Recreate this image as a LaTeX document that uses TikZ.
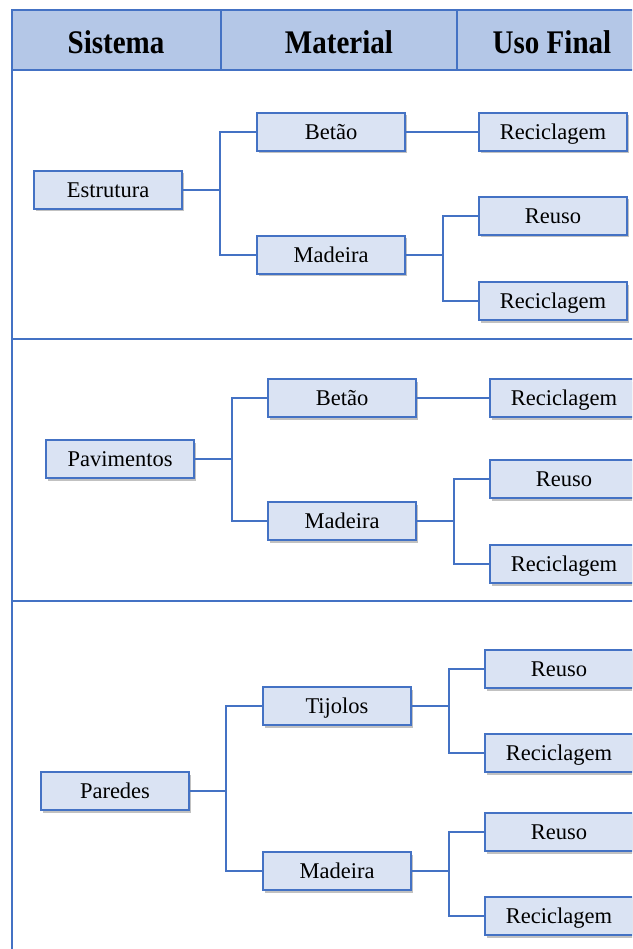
\documentclass[tikz,border=0pt]{standalone}
\usepackage{fontspec}
\setmainfont{Liberation Serif}
\newfontfamily\headfont[FakeStretch=0.88]{Liberation Serif}
\usetikzlibrary{shadows}
\definecolor{frame}{HTML}{4472C4}
\definecolor{headfill}{HTML}{B4C7E7}
\definecolor{boxfill}{HTML}{DAE3F3}
\tikzset{
  box/.style={draw=frame, fill=boxfill, line width=1.6pt, minimum width=148pt,
    minimum height=38pt, inner sep=0pt, text height=16pt, text depth=1pt,
    font=\fontsize{22.5}{26}\selectfont,
    drop shadow={shadow xshift=1.5pt, shadow yshift=-2.5pt, opacity=0.4, fill=black!60}},
  link/.style={draw=frame, line width=1.7pt},
  grid/.style={draw=frame, line width=2.2pt},
  head/.style={font=\headfont\fontsize{33}{36}\selectfont\bfseries}
}
\begin{document}
\begin{tikzpicture}[x=1pt, y=-1pt]
\useasboundingbox (0,0) rectangle (632,949);
\clip (0,0) rectangle (632,949);
\fill[white] (0,0) rectangle (632,949);

% header row and table frame
\fill[headfill] (12,10) rectangle (640,70);
\draw[grid] (12,949) -- (12,10) -- (640,10);
\draw[grid] (12,70) -- (640,70);
\draw[grid] (221,10) -- (221,70);
\draw[grid] (457,10) -- (457,70);
\draw[grid] (12,339) -- (640,339);
\draw[grid] (12,601) -- (640,601);
\node[head] (hs) at (116,42) {Sistema};
\node[head] (hm) at (339,42) {Material};
\node[head] (hu) at (552,42) {Uso Final};

% Estrutura
\node[box] (est) at (108,190) {Estrutura};
\node[box] (bet1) at (331,132) {Betão};
\node[box] (mad1) at (331,255) {Madeira};
\node[box] (rec1a) at (553,132) {Reciclagem};
\node[box] (reu1) at (553,216) {Reuso};
\node[box] (rec1b) at (553,301) {Reciclagem};
\coordinate (j1) at (220,190);
\coordinate (k1) at (443,255);
\draw[link] (est.east) -- (j1) |- (bet1.west);
\draw[link] (j1) |- (mad1.west);
\draw[link] (bet1.east) -- (rec1a.west);
\draw[link] (mad1.east) -- (k1) |- (reu1.west);
\draw[link] (k1) |- (rec1b.west);

% Pavimentos
\node[box] (pav) at (120,459) {Pavimentos};
\node[box] (bet2) at (342,398) {Betão};
\node[box] (mad2) at (342,521) {Madeira};
\node[box] (rec2a) at (564,398) {Reciclagem};
\node[box] (reu2) at (564,479) {Reuso};
\node[box] (rec2b) at (564,564) {Reciclagem};
\coordinate (j2) at (232,459);
\coordinate (k2) at (454,521);
\draw[link] (pav.east) -- (j2) |- (bet2.west);
\draw[link] (j2) |- (mad2.west);
\draw[link] (bet2.east) -- (rec2a.west);
\draw[link] (mad2.east) -- (k2) |- (reu2.west);
\draw[link] (k2) |- (rec2b.west);

% Paredes
\node[box] (par) at (115,791) {Paredes};
\node[box] (tij) at (337,706) {Tijolos};
\node[box] (mad3) at (337,871) {Madeira};
\node[box] (reu3a) at (559,669) {Reuso};
\node[box] (rec3a) at (559,753) {Reciclagem};
\node[box] (reu3b) at (559,832) {Reuso};
\node[box] (rec3b) at (559,916) {Reciclagem};
\coordinate (j3) at (226,791);
\coordinate (k3a) at (449,706);
\coordinate (k3b) at (449,871);
\draw[link] (par.east) -- (j3) |- (tij.west);
\draw[link] (j3) |- (mad3.west);
\draw[link] (tij.east) -- (k3a) |- (reu3a.west);
\draw[link] (k3a) |- (rec3a.west);
\draw[link] (mad3.east) -- (k3b) |- (reu3b.west);
\draw[link] (k3b) |- (rec3b.west);
\end{tikzpicture}
\end{document}
